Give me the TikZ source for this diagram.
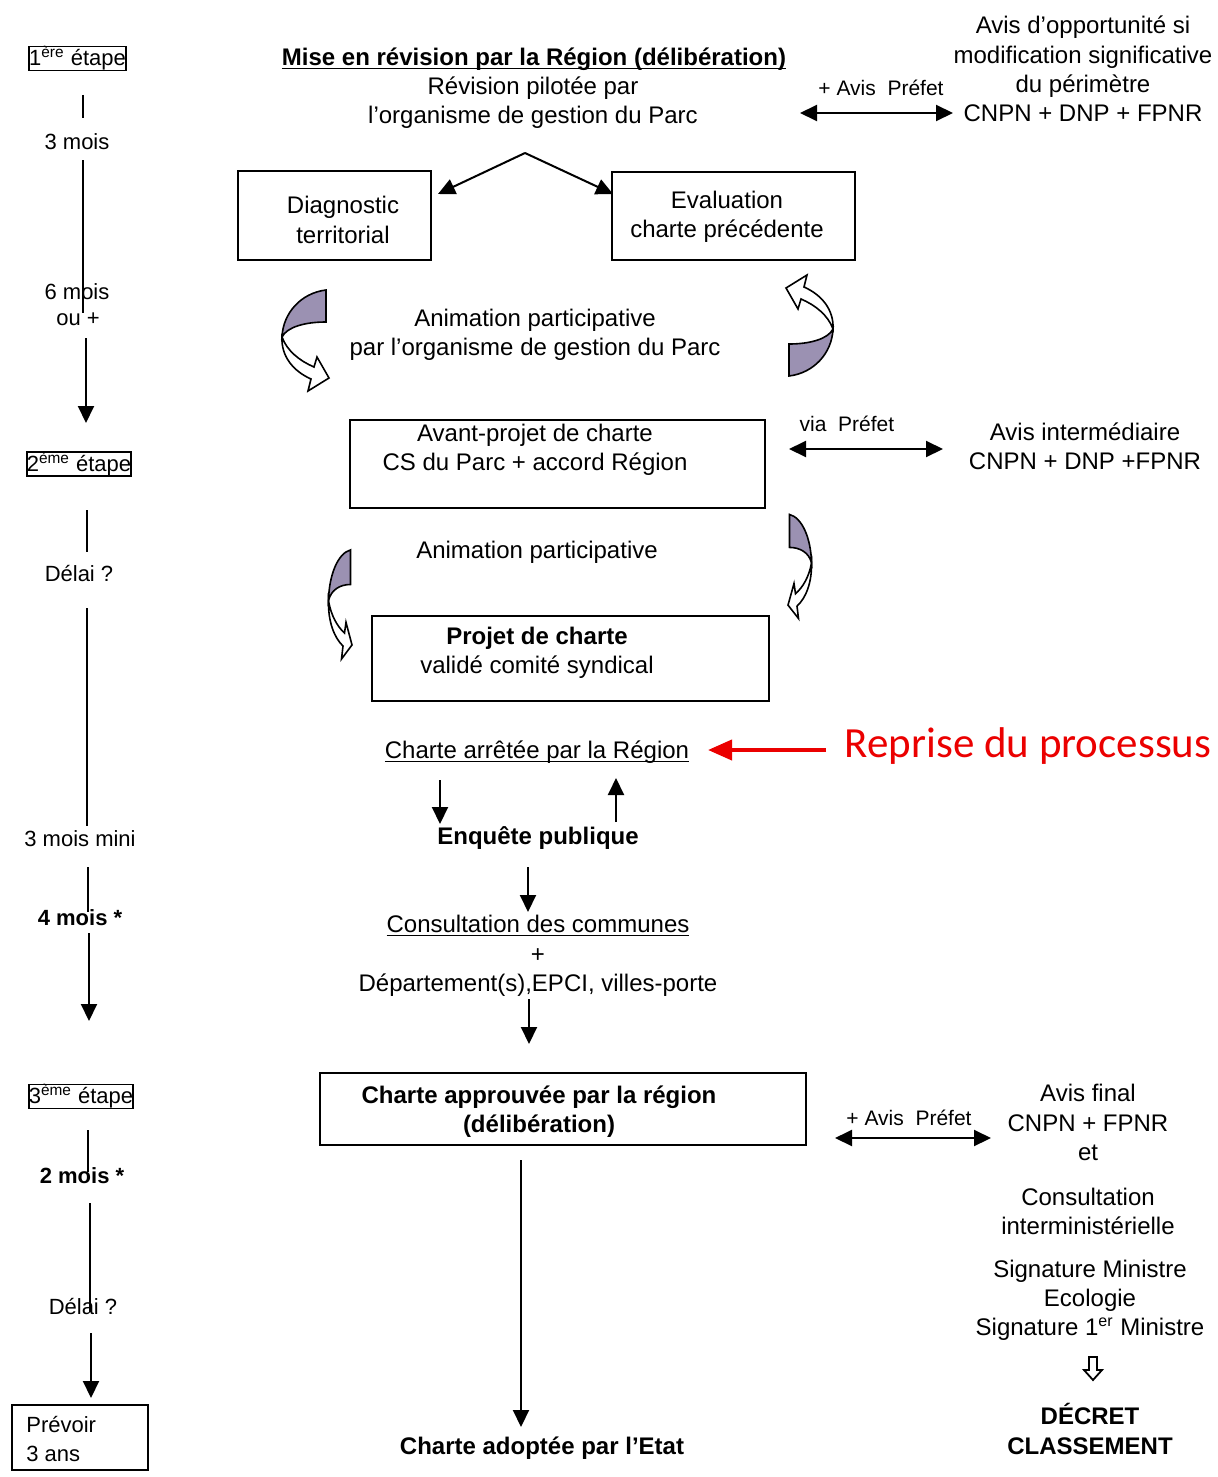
\documentclass[tikz,border=0pt]{standalone}
\usepackage{fontspec}
\setmainfont{Liberation Sans}
\newfontfamily\redfont{Carlito}
\usetikzlibrary{arrows.meta}
\definecolor{cgray}{RGB}{155,145,178}
\definecolor{rred}{RGB}{235,0,0}
\newcommand{\ulin}[1]{\underline{\smash{#1}}\vphantom{#1}}
\begin{document}
\begin{tikzpicture}[x=0.5pt,y=-0.5pt,
  txt/.style={font=\fontsize{12}{14.6}\selectfont, align=center, inner sep=0pt},
  btxt/.style={font=\fontsize{12}{14.6}\selectfont\bfseries, align=center, inner sep=0pt},
  lbl/.style={font=\fontsize{11}{13}\selectfont, inner sep=0pt},
  blbl/.style={font=\fontsize{11}{13}\selectfont\bfseries, inner sep=0pt},
  slbl/.style={font=\fontsize{10.5}{12}\selectfont, inner sep=0pt},
  stepbox/.style={draw, line width=0.9pt, inner sep=0pt, font=\fontsize{11}{13}\selectfont},
  boxn/.style={draw, line width=1pt, inner sep=0pt},
  ln/.style={line width=1pt},
  arr/.style={line width=1pt, -{Triangle[length=8.5pt,width=8pt]}},
  dbl/.style={line width=1pt, {Triangle[length=8.5pt,width=8pt]}-{Triangle[length=8.5pt,width=8pt]}},
  curvarr/.pic={
    \draw[line width=0.8pt, fill=cgray] (21,-51) .. controls (-4,-48) and (-22,-28) .. (-23,-4)
       .. controls (-18,-14) and (0,-19) .. (21,-19) -- cycle;
    \draw[line width=0.8pt, fill=white] (-23,-4) .. controls (-24,15) and (-12,30) .. (6,38)
       -- (3,50) -- (24,37) -- (12,16) -- (9,26) .. controls (-5,20) and (-18,10) .. (-23,-4) -- cycle;
  }]
\fill[white] (0,0) rectangle (1217,1477);
\useasboundingbox (0,0) rectangle (1217,1477);

% ---------------- left column ----------------
\node[stepbox, minimum width=47.5pt, minimum height=11.5pt] (e1) at (77.5,58.5) {1\textsuperscript{ère} étape};
\node[lbl] (m3) at (77,142) {3 mois};
\node[lbl] (m6) at (77,292) {6 mois};
\node[lbl] (ou) at (78,319) {ou +};
\node[stepbox, minimum width=51pt, minimum height=12pt] (e2) at (79,464) {2\textsuperscript{ème} étape};
\node[lbl] (d1) at (79,574) {Délai ?};
\node[lbl] (m3m) at (80,839) {3 mois mini};
\node[blbl] (m4) at (80,918) {4 mois *};
\node[stepbox, minimum width=51pt, minimum height=11.5pt] (e3) at (81,1096.5) {3\textsuperscript{ème} étape};
\node[blbl] (m2) at (82,1176) {2 mois *};
\node[lbl] (d2) at (83,1306) {Délai ?};
\node[boxn, minimum width=68pt, minimum height=32.5pt] (prev) at (80,1437.5) {};
\node[lbl, align=left, anchor=west, font=\fontsize{11}{14.6}\selectfont] (prevt) at (26,1439) {Prévoir\\3 ans};

\coordinate (a1) at (83,95);   \coordinate (b1) at (83,118);
\coordinate (a2) at (83,160);  \coordinate (b2) at (83,313);
\coordinate (a3) at (86,338);  \coordinate (b3) at (86,423);
\coordinate (a4) at (87,510);  \coordinate (b4) at (87,552);
\coordinate (a5) at (87,608);  \coordinate (b5) at (87,826);
\coordinate (a6) at (88,867);  \coordinate (b6) at (88,912);
\coordinate (a7) at (89,933);  \coordinate (b7) at (89,1021);
\coordinate (a8) at (88,1130); \coordinate (b8) at (88,1172);
\coordinate (a9) at (90,1203); \coordinate (b9) at (90,1312);
\coordinate (a10) at (91,1333); \coordinate (b10) at (91,1398);
\draw[ln] (a1) -- (b1);
\draw[ln] (a2) -- (b2);
\draw[arr] (a3) -- (b3);
\draw[ln] (a4) -- (b4);
\draw[ln] (a5) -- (b5);
\draw[ln] (a6) -- (b6);
\draw[arr] (a7) -- (b7);
\draw[ln] (a8) -- (b8);
\draw[ln] (a9) -- (b9);
\draw[arr] (a10) -- (b10);

% ---------------- middle column ----------------
\node[btxt] (title) at (534,59) {\ulin{Mise en révision par la Région (délibération)}};
\node[txt] (rev) at (533,103) {Révision pilotée par\\l’organisme de gestion du Parc};
\coordinate (apex) at (525,153);
\coordinate (tipL) at (438,194);
\coordinate (tipR) at (613,194);
\draw[arr] (apex) -- (tipL);
\draw[arr] (apex) -- (tipR);

\node[boxn, minimum width=96.5pt, minimum height=44.5pt] (diag) at (334.5,215.5) {};
\node[txt] (diagt) at (343,220) {Diagnostic\\territorial};
\node[boxn, minimum width=121.5pt, minimum height=44pt] (eval) at (733.5,216) {};
\node[txt] (evalt) at (727,216.5) {Evaluation\\charte précédente};

\pic at (305,341) {curvarr};
\pic[rotate=180] at (810,325) {curvarr};
\node[txt] (anim1) at (535,335) {Animation participative\\par l’organisme de gestion du Parc};

\node[boxn, minimum width=207.5pt, minimum height=44pt] (avp) at (557.5,464) {};
\node[txt] (avpt) at (535,450) {Avant-projet de charte\\CS du Parc + accord Région};

\node[txt] (anim2) at (537,552) {Animation participative};
\pic[xscale=0.5, yscale=1.08] at (340,605) {curvarr};
\pic[xscale=-0.5, yscale=1.03] at (800,567) {curvarr};

\node[boxn, minimum width=198.5pt, minimum height=42.5pt] (proj) at (570.5,658.5) {};
\node[txt] (projt) at (537,652.5) {\textbf{Projet de charte}\\validé comité syndical};

\node[txt] (arret) at (537,752) {\ulin{Charte arrêtée par la Région}};
\node[inner sep=0pt, text=rred, font=\redfont\fontsize{21.5}{24}\selectfont] (repr) at (1028,746) {Reprise du processus};
\coordinate (rs) at (826,750);
\coordinate (re) at (708,750);
\draw[rred, line width=2pt, -{Triangle[length=12pt,width=10pt]}] (rs) -- (re);

\coordinate (q1a) at (440,780); \coordinate (q1b) at (440,824);
\coordinate (q2a) at (616,822); \coordinate (q2b) at (616,778);
\draw[arr] (q1a) -- (q1b);
\draw[arr] (q2a) -- (q2b);
\node[btxt] (enq) at (538,838) {Enquête publique};
\coordinate (q3a) at (528,867); \coordinate (q3b) at (528,912);
\draw[arr] (q3a) -- (q3b);
\node[txt, font=\fontsize{12}{14.75}\selectfont] (cons) at (538,956) {\ulin{Consultation des communes}\\+\\Département(s),EPCI, villes-porte};
\coordinate (q4a) at (529,999); \coordinate (q4b) at (529,1044);
\draw[arr] (q4a) -- (q4b);

\node[boxn, minimum width=243pt, minimum height=36pt] (appr) at (563,1109) {};
\node[btxt] (apprt) at (539,1111.5) {Charte approuvée par la région\\(délibération)};
\coordinate (q5a) at (521,1160); \coordinate (q5b) at (521,1427);
\draw[arr] (q5a) -- (q5b);
\node[btxt] (adopt) at (542,1448) {Charte adoptée par l’Etat};

% ---------------- right column ----------------
\node[txt, font=\fontsize{12}{14.65}\selectfont] (opp) at (1083,69) {Avis d’opportunité si\\modification significative\\du périmètre\\CNPN + DNP + FPNR};
\node[slbl] (pref1) at (881,88) {+ Avis~~Préfet};
\coordinate (p1a) at (800,113); \coordinate (p1b) at (953,113);
\draw[dbl] (p1a) -- (p1b);

\node[slbl] (pref2) at (847,424) {via~~Préfet};
\coordinate (p2a) at (789,449); \coordinate (p2b) at (943,449);
\draw[dbl] (p2a) -- (p2b);
\node[txt] (avint) at (1085,446) {Avis intermédiaire\\CNPN + DNP +FPNR};

\node[slbl] (pref3) at (909,1118) {+ Avis~~Préfet};
\coordinate (p3a) at (835,1138); \coordinate (p3b) at (991,1138);
\draw[dbl] (p3a) -- (p3b);
\node[txt] (avfin) at (1088,1122.5) {Avis final\\CNPN + FPNR\\et};
\node[txt] (cint) at (1088,1211.5) {Consultation\\interministérielle};
\node[txt] (sig) at (1090,1300) {Signature Ministre\\Ecologie\\Signature 1\textsuperscript{er} Ministre};
\draw[line width=0.9pt, fill=white] (1089,1357) -- (1097,1357) -- (1097,1370) -- (1102,1370)
   -- (1093,1380) -- (1084,1370) -- (1089,1370) -- cycle;
\node[btxt] (dec) at (1090,1429) {DÉCRET\\CLASSEMENT};
\end{tikzpicture}
\end{document}
